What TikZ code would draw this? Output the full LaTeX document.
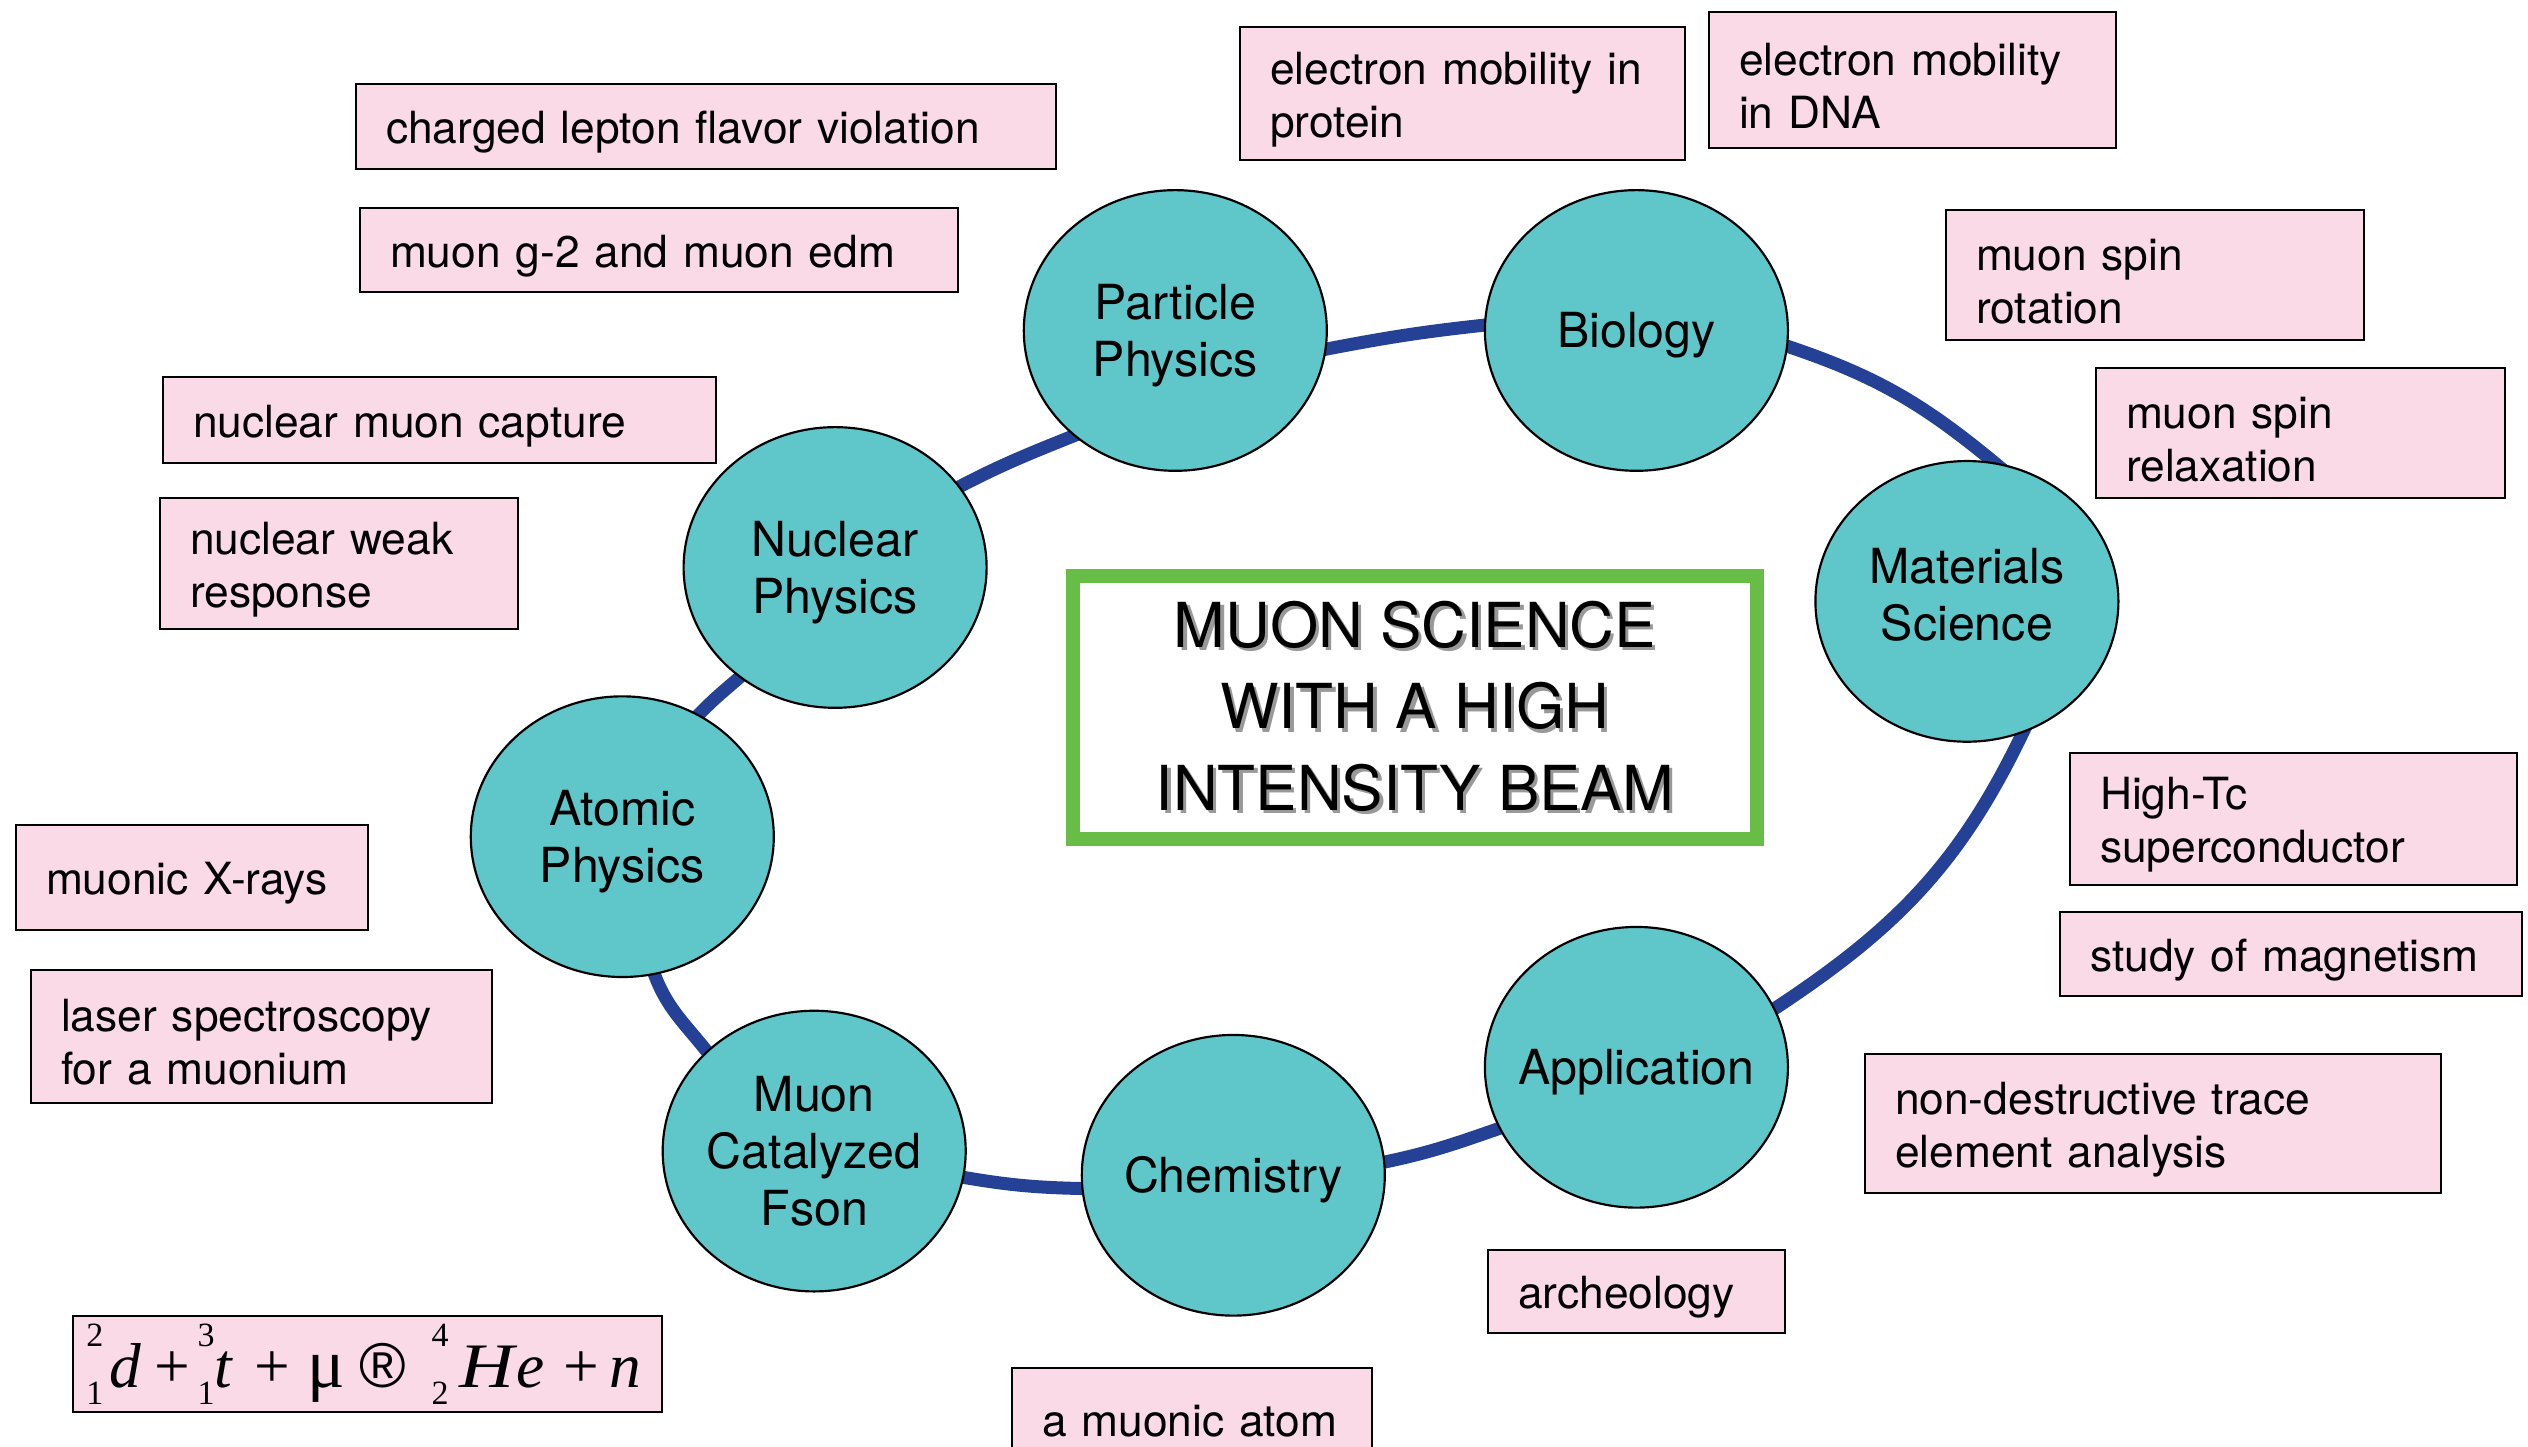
\documentclass[tikz,border=0pt]{standalone}
\usepackage{fontspec}
\setmainfont{TeX Gyre Heros}
\newfontfamily\fmserif{Liberation Serif}
\newfontfamily\fmsans{Liberation Sans}
\usetikzlibrary{shapes.geometric,backgrounds}
\definecolor{tealfill}{RGB}{95,198,201}
\definecolor{ringblue}{RGB}{36,65,150}
\definecolor{pinkfill}{RGB}{249,218,230}
\definecolor{titlegreen}{RGB}{103,189,69}
\tikzset{
  topic/.style={ellipse, draw=black, line width=0.65pt, fill=tealfill,
    inner xsep=-9pt, inner ysep=0pt,
    minimum width=90.9pt, minimum height=84.2pt, align=center,
    font=\fontsize{14.5}{17}\selectfont},
  pinkbox/.style={rectangle, draw=black, line width=0.7pt, fill=pinkfill,
    inner xsep=9pt, inner ysep=0pt, align=left,
    font=\fontsize{13.3}{15.9}\selectfont},
  titlebox/.style={rectangle, draw=titlegreen, line width=4.2pt, fill=white,
    minimum width=205.2pt, minimum height=79pt, align=center, inner sep=0pt,
    font=\fontsize{18.6}{24.5}\selectfont},
  ring/.style={draw=ringblue, line width=3.9pt, shorten <=-4pt, shorten >=-4pt}
}
\newcommand\pinkbx[6]{%
  \pgfmathsetmacro\pbW{(#4-#2)*0.3}%
  \pgfmathsetmacro\pbH{(#5-#3)*0.3}%
  \pgfmathsetmacro\pbT{(#4-#2)*0.3-18}%
  \node[pinkbox, minimum width=\pbW pt, minimum height=\pbH pt, text width=\pbT pt]
    (#1) at ({(#2+#4)/2},{1447-(#3+#5)/2}) {\rule{0pt}{13.4pt}#6};}
\newcommand\tup{\rule{0pt}{13.6pt}}
\newcommand\shd[1]{\makebox[0pt][l]{\hspace*{1pt}\raisebox{-1pt}{\textcolor{black!40}{#1}}}#1}
\newcommand\iso[2]{\raisebox{-5.1pt}{\fontsize{10.2}{10.2}\selectfont\vbox{\hbox{#1}\kern7.2pt\hbox{#2}}}}
\begin{document}
\begin{tikzpicture}[x=0.3pt,y=0.3pt]
\useasboundingbox (0,0) rectangle (2528,1447);
\clip (0,0) rectangle (2528,1447);

% topic circles
\node[topic] (pp)   at (1175.3,1116.5) {\tup Particle\\Physics};
\node[topic] (bio)  at (1636.4,1116.5) {\tup Biology};
\node[topic] (mat)  at (1966.9,845.6)  {Materials\\Science\rule[-4pt]{0pt}{0pt}};
\node[topic] (app)  at (1636.4,379.7)  {\tup Application};
\node[topic] (chem) at (1233.3,271.7)  {\tup Chemistry};
\node[topic] (mcf)  at (814.2,295.9)   {Muon\\Catalyzed\\Fson};
\node[topic] (ap)   at (622.3,610.3)   {\tup Atomic\\Physics};
\node[topic] (np)   at (835.1,879.5)   {\tup Nuclear\\Physics};

% ring
\begin{pgfonlayer}{background}
\draw[ring] (np.33)   to[out=28,in=202]  (pp.226);
\draw[ring] (pp.353)  to[out=11,in=186]  (bio.178);
\draw[ring] (bio.354) to[out=-18,in=140] (mat.79);
\draw[ring] (mat.293) to[out=245,in=33]  (app.23);
\draw[ring] (app.204) to[out=199,in=11]  (chem.5);
\draw[ring] (chem.185) to[out=179,in=-10] (mcf.350);
\draw[ring] (mcf.137) to[out=127,in=-73] (ap.283);
\draw[ring] (ap.58)   to[out=48,in=222]  (np.229);
\end{pgfonlayer}

% title
\node[titlebox] (title) at (1414.75,739.25)
  {\shd{MUON SCIENCE}\\\shd{WITH A HIGH}\\\shd{INTENSITY BEAM}};

% pink boxes
\pinkbx{clfv}{356}{84}{1056}{169}{charged lepton flavor violation}
\pinkbx{gmtwo}{360}{208}{958}{292}{muon g-2 and muon edm}
\pinkbx{prot}{1240}{27}{1685}{160}{electron mobility in\\protein}
\pinkbx{dna}{1709}{12}{2116}{148}{electron mobility\\in DNA}
\pinkbx{rot}{1946}{210}{2364}{340}{muon spin\\rotation}
\pinkbx{relax}{2096}{368}{2505}{498}{muon spin\\relaxation}
\pinkbx{nmc}{163}{377}{716}{463}{nuclear muon capture}
\pinkbx{nwr}{160}{498}{518}{629}{nuclear weak\\response}
\pinkbx{xray}{16}{825}{368}{930}{muonic X-rays}
\pinkbx{laser}{31}{970}{492}{1103}{laser spectroscopy\\for a muonium}
\pinkbx{htc}{2070}{753}{2517}{885}{High-Tc\\superconductor}
\pinkbx{magn}{2060}{912}{2522}{996}{study of magnetism}
\pinkbx{ndta}{1865}{1054}{2441}{1193}{non-destructive trace\\element analysis}
\pinkbx{arch}{1488}{1250}{1785}{1333}{archeology}
\pinkbx{atom}{1012}{1368}{1372}{1462}{a muonic atom}

% formula box
\node[pinkbox, inner xsep=4pt, minimum width=176.7pt, minimum height=28.8pt,
      text width=168.7pt, text depth=5pt,
      font=\fmserif\fontsize{19}{21}\selectfont]
  (formula) at (367.5,83) {%
  \makebox[7pt][l]{\iso{2}{1}}\makebox[13.5pt][l]{\textit{d}}\makebox[12.9pt][l]{+}%
  \makebox[5.1pt][l]{\iso{3}{1}}\makebox[12pt][l]{\textit{t}}\makebox[15.9pt][l]{+}%
  \makebox[15.6pt][l]{\fontsize{21}{21}\selectfont μ}\makebox[21.6pt][l]{{\fmsans ®}}%
  \makebox[8.4pt][l]{\iso{4}{2}}\makebox[17pt][l]{\scalebox{1.2}[1]{\textit{H}}}\makebox[14pt][l]{\textit{e}}%
  \makebox[14pt][l]{+}\textit{n}};
\end{tikzpicture}
\end{document}
